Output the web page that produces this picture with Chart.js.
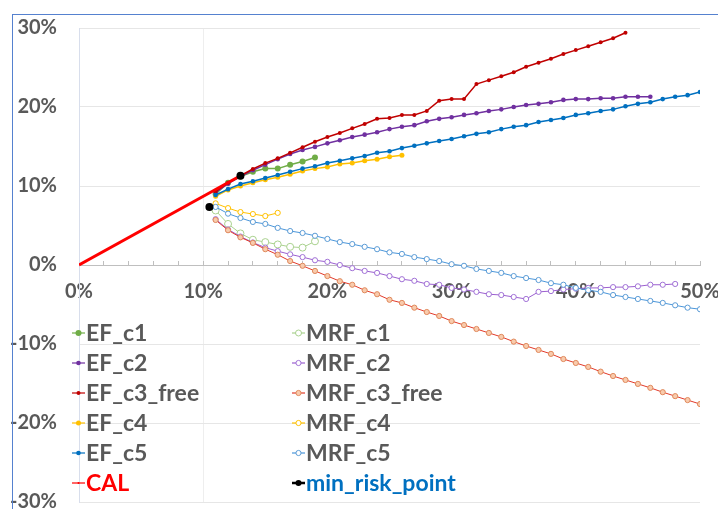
<!DOCTYPE html>
<html>
<head>
<meta charset="utf-8">
<script src="https://cdn.jsdelivr.net/npm/chart.js@4.4.1/dist/chart.umd.min.js"></script>
<style>
  html, body { margin: 0; padding: 0; overflow: hidden; background: #fff; }
  #wrap { position: relative; width: 718px; height: 509px; overflow: hidden; }
  #frame { position: absolute; left: 12px; top: 14px; width: 800px; height: 600px;
           border-left: 1px solid #5581cf; border-top: 1px solid #5581cf; pointer-events: none; }
  canvas { position: absolute; left: 0; top: 0; }
</style>
</head>
<body>
<div id="wrap">
  <canvas id="frontier" width="740" height="530"></canvas>
  <div id="frame"></div>
</div>
<script>
// risk (x, %) for every frontier point, 1% steps
const risk = [11, 12, 13, 14, 15, 16, 17, 18, 19, 20, 21, 22, 23, 24, 25, 26, 27, 28, 29, 30,
  31, 32, 33, 34, 35, 36, 37, 38, 39, 40, 41, 42, 43, 44, 45, 46, 47, 48, 49, 50];

// returns (y, %)
const efC1 = [9.0, 10.4, 11.2, 11.8, 12.2, 12.2, 12.7, 13.1, 13.6];
const efC2 = [9.2, 10.3, 11.2, 12.0, 12.7, 13.4, 14.05, 14.55, 14.95, 15.4, 15.8, 16.2, 16.5, 16.8,
  17.2, 17.5, 17.7, 18.2, 18.5, 18.7, 19.0, 19.2, 19.5, 19.7, 20.0, 20.25, 20.4, 20.6, 20.9, 21.0,
  21.0, 21.1, 21.1, 21.3, 21.3, 21.3];
const efC3 = [9.3, 10.4, 11.3, 12.15, 12.9, 13.5, 14.2, 14.9, 15.6, 16.2, 16.7, 17.3, 17.85, 18.5,
  18.6, 19.0, 19.0, 19.5, 20.8, 21.0, 21.0, 22.9, 23.4, 23.9, 24.4, 25.1, 25.6, 26.1, 26.7, 27.2,
  27.7, 28.2, 28.7, 29.4];
const efC4 = [8.7, 9.5, 10.0, 10.4, 10.8, 11.1, 11.5, 11.9, 12.2, 12.4, 12.8, 12.9, 13.2, 13.4, 13.7, 13.9];
const efC5 = [8.86, 9.6, 10.25, 10.6, 11.0, 11.4, 11.8, 12.2, 12.5, 12.9, 13.2, 13.5, 13.8, 14.2,
  14.4, 14.8, 15.1, 15.4, 15.7, 15.95, 16.3, 16.6, 16.8, 17.2, 17.5, 17.7, 18.1, 18.35, 18.6, 19.0,
  19.2, 19.5, 19.7, 20.1, 20.4, 20.6, 21.0, 21.3, 21.5, 21.9];

const mrfC1 = [6.9, 5.2, 4.0, 3.2, 2.9, 2.6, 2.3, 2.2, 3.0];
const mrfC2 = [5.8, 4.5, 3.6, 2.85, 2.2, 1.75, 1.35, 1.0, 0.6, 0.4, 0.0, -0.4, -0.75, -1.0, -1.4,
  -1.8, -2.0, -2.4, -2.5, -2.9, -3.1, -3.4, -3.7, -3.8, -4.05, -4.3, -3.4, -3.3, -3.1, -3.0, -2.9,
  -2.9, -2.8, -2.8, -2.7, -2.5, -2.5, -2.4];
const mrfC3 = [5.7, 4.4, 3.5, 2.8, 2.0, 1.3, 0.5, -0.1, -0.75, -1.4, -2.05, -2.5, -3.2, -3.7, -4.4,
  -4.8, -5.4, -5.95, -6.45, -7.1, -7.6, -8.1, -8.6, -9.1, -9.7, -10.25, -10.75, -11.25, -11.9,
  -12.4, -12.9, -13.5, -14.05, -14.55, -15.05, -15.55, -16.1, -16.6, -17.1, -17.6];
const mrfC4 = [7.8, 7.2, 6.7, 6.45, 6.2, 6.6];
const mrfC5 = [7.35, 6.5, 5.95, 5.45, 5.2, 4.7, 4.3, 4.05, 3.7, 3.3, 2.9, 2.65, 2.3, 2.0, 1.6, 1.4,
  1.0, 0.75, 0.5, 0.1, -0.1, -0.5, -0.75, -1.0, -1.4, -1.65, -1.9, -2.3, -2.5, -2.9, -3.2, -3.4,
  -3.8, -4.05, -4.3, -4.55, -4.8, -5.1, -5.4, -5.6];

const calX = [0, 13.0];
const calY = [0, 11.3];
const minRiskX = [10.5, 13.0];
const minRiskY = [7.35, 11.3];

const xTicks = [0, 10, 20, 30, 40, 50];
const yTicks = [-30, -20, -10, 0, 10, 20, 30];

const legendCols = [
  ["EF_c1", "EF_c2", "EF_c3_free", "EF_c4", "EF_c5", "CAL"],
  ["MRF_c1", "MRF_c2", "MRF_c3_free", "MRF_c4", "MRF_c5", "min_risk_point"],
];

function pts(ys, xs) {
  xs = xs || risk;
  return ys.map((y, i) => ({ x: xs[i], y: y }));
}

function filled(label, ys, color, r) {
  return {
    label: label, data: pts(ys), borderColor: color, backgroundColor: color,
    borderWidth: 1.5, pointRadius: r, pointBackgroundColor: color, pointBorderColor: color,
    pointBorderWidth: 0, showLine: true,
  };
}

function hollow(label, ys, line, ring, fill, r) {
  return {
    label: label, data: pts(ys), borderColor: line, backgroundColor: line,
    borderWidth: 1, pointRadius: r, pointBackgroundColor: fill, pointBorderColor: ring,
    pointBorderWidth: 1, showLine: true,
  };
}

const datasets = [
  filled("EF_c1", efC1, "#70AD47", 3),
  hollow("MRF_c1", mrfC1, "#A9D18E", "#A9D18E", "#ffffff", 3.5),
  filled("EF_c2", efC2, "#7030A0", 2.3),
  hollow("MRF_c2", mrfC2, "#9B5FCF", "#A070D6", "#ffffff", 2.6),
  filled("EF_c3_free", efC3, "#C00000", 2),
  hollow("MRF_c3_free", mrfC3, "#E23A2A", "#E0895C", "#F8CBAD", 2.6),
  filled("EF_c4", efC4, "#FFC000", 2.5),
  hollow("MRF_c4", mrfC4, "#FFC000", "#FFC000", "#ffffff", 2.6),
  filled("EF_c5", efC5, "#0070C0", 2.3),
  hollow("MRF_c5", mrfC5, "#4A96DA", "#5B9BD5", "#ffffff", 2.6),
  {
    label: "CAL", data: pts(calY, calX), borderColor: "#FF0000", backgroundColor: "#FF0000",
    borderWidth: 3, pointRadius: 0, showLine: true,
  },
  {
    label: "min_risk_point", data: pts(minRiskY, minRiskX), borderColor: "#000000",
    backgroundColor: "#000000", borderWidth: 2, pointRadius: 4, pointBackgroundColor: "#000000",
    pointBorderWidth: 0, showLine: false,
  },
];
// later series sit on top, like the original
datasets.forEach((d, i) => { d.order = -i; });

const textColors = { CAL: "#FF0000", min_risk_point: "#0070C0" };

const columnLegend = {
  id: "columnLegend",
  afterDraw(chart) {
    const ctx = chart.ctx;
    const colX = [72, 292];
    ctx.save();
    ctx.font = "bold 23px Lato";
    ctx.textBaseline = "middle";
    legendCols.forEach((col, c) => {
      col.forEach((name, r) => {
        const ds = chart.data.datasets.find((d) => d.label === name);
        const x = colX[c];
        const y = 333 + r * 30;
        ctx.strokeStyle = ds.borderColor;
        ctx.lineWidth = name === "min_risk_point" ? 2.5 : 1.2;
        ctx.beginPath();
        ctx.moveTo(x, y);
        ctx.lineTo(x + 13, y);
        ctx.stroke();
        const pr = Math.min(ds.pointRadius || 1, 3);
        ctx.beginPath();
        ctx.arc(x + 6.5, y, pr, 0, Math.PI * 2);
        ctx.fillStyle = ds.pointBackgroundColor || ds.borderColor;
        ctx.fill();
        if (ds.pointBorderWidth) {
          ctx.lineWidth = 1;
          ctx.strokeStyle = ds.pointBorderColor;
          ctx.stroke();
        }
        ctx.fillStyle = textColors[name] || "#595959";
        ctx.fillText(name, x + 14, y + 1);
      });
    });
    ctx.restore();
  },
};

const frontierChart = new Chart(document.getElementById("frontier").getContext("2d"), {
  type: "scatter",
  data: { datasets: datasets },
  options: {
    responsive: false,
    animation: false,
    devicePixelRatio: 1,
    layout: { padding: { left: 0, right: 40, top: 28, bottom: 28 } },
    plugins: { legend: { display: false }, tooltip: { enabled: false } },
    scales: {
      x: {
        type: "linear",
        position: { y: 0 },
        min: 0,
        max: 50,
        afterFit(scale) { scale.height = 0; },
        ticks: {
          stepSize: 2,
          autoSkip: false,
          maxRotation: 0,
          padding: 20,
          color: "#595959",
          font: { family: "Lato", size: 20, weight: "bold" },
          callback: (v) => (xTicks.includes(v) ? v + "%" : ""),
        },
        grid: {
          color: (c) => (c.tick && c.tick.value === 10 ? "#eeeeee" : "rgba(0,0,0,0)"),
          tickColor: "#bfbfbf",
          tickLength: -5,
        },
        border: { color: "#bfbfbf", width: 1 },
      },
      y: {
        min: -30,
        max: 30,
        afterFit(scale) { scale.width = 79; },
        ticks: {
          stepSize: 10,
          padding: 0,
          color: "#595959",
          font: { family: "Lato", size: 20, weight: "bold" },
          callback: (v) => (yTicks.includes(v) ? v + "%" : ""),
        },
        grid: { color: "#e6e6e6", tickLength: 22, tickColor: "rgba(0,0,0,0)" },
        border: { color: "#d8deec" },
      },
    },
  },
  plugins: [columnLegend],
});
</script>
</body>
</html>
